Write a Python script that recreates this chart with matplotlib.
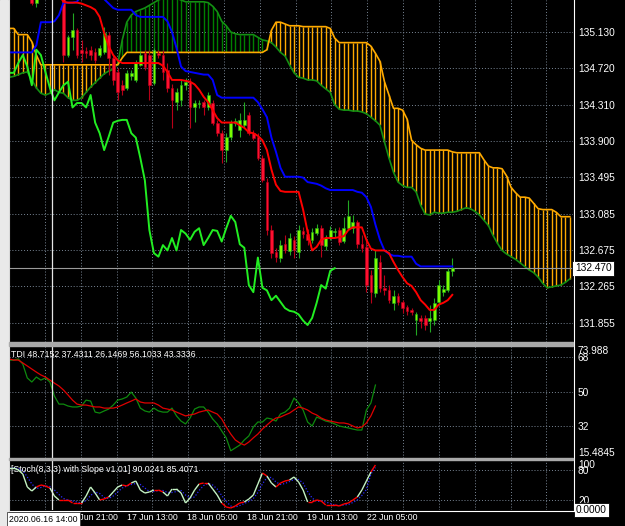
import numpy as np
import matplotlib
matplotlib.use("Agg")
import matplotlib.pyplot as plt
from matplotlib.patches import Rectangle
from matplotlib.lines import Line2D
from matplotlib.collections import LineCollection
from matplotlib.transforms import blended_transform_factory

plt.rcParams['font.family'] = ['Liberation Sans', 'DejaVu Sans']

W, H = 625.0, 526.0

# H1 candles, first one is bar 5 (bars 0..4 are above the visible range)
first_bar = 5
opens = [135.58, 135.46, 135.55, 135.64, 135.75, 135.70, 135.63, 135.58, 134.87, 135.07,
         135.15, 134.93, 134.92, 134.93, 134.90, 134.87, 134.90, 135.10, 134.84, 134.68,
         134.53, 134.50, 134.63, 134.59, 134.76, 134.89, 134.87, 134.56, 134.89, 134.87,
         134.70, 134.50, 134.34, 134.36, 134.53, 134.57, 134.28, 134.32, 134.34, 134.28,
         134.33, 134.11, 133.99, 133.80, 133.95, 134.11, 134.03, 134.08, 134.20, 133.99,
         133.95, 133.71, 133.44, 132.90, 132.65, 132.59, 132.74, 132.66, 132.79, 132.65,
         132.89, 132.86, 132.79, 132.87, 132.92, 132.72, 132.81, 132.88, 132.90, 132.78,
         132.92, 132.92, 132.99, 132.74, 132.71, 132.39, 132.19, 132.54, 132.25, 132.22,
         132.08, 132.16, 132.09, 132.03, 132.00, 131.89, 131.91, 131.91, 131.87, 131.89,
         132.09, 132.20, 132.22, 132.44]
highs = [135.66, 135.60, 135.70, 135.80, 135.84, 135.76, 135.68, 135.62, 135.10, 135.34,
         135.17, 135.04, 134.96, 134.97, 134.95, 134.98, 135.19, 135.13, 134.87, 134.72,
         134.59, 134.70, 134.70, 134.81, 134.90, 134.93, 134.93, 134.95, 134.93, 134.93,
         134.78, 134.54, 134.50, 134.59, 134.61, 134.61, 134.36, 134.36, 134.36, 134.45,
         134.36, 134.14, 134.03, 133.99, 134.14, 134.16, 134.22, 134.34, 134.23, 134.03,
         133.99, 133.74, 133.49, 132.96, 132.70, 132.79, 132.84, 132.87, 132.83, 132.96,
         132.93, 132.91, 132.92, 132.97, 132.96, 132.84, 132.95, 132.92, 132.93, 133.05,
         133.24, 133.07, 133.01, 132.84, 132.79, 132.45, 132.67, 132.62, 132.39, 132.28,
         132.22, 132.19, 132.11, 132.06, 132.02, 131.98, 131.94, 131.94, 132.06, 132.14,
         132.34, 132.28, 132.47, 132.59]
lows = [135.43, 135.41, 135.52, 135.60, 135.66, 135.60, 135.55, 134.79, 134.85, 134.93,
        134.84, 134.79, 134.84, 134.81, 134.78, 134.85, 134.88, 134.65, 134.53, 134.36,
        134.42, 134.48, 134.59, 134.57, 134.75, 134.70, 134.36, 134.53, 134.84, 134.59,
        134.45, 134.05, 134.25, 134.30, 134.48, 134.05, 134.12, 134.27, 134.20, 134.25,
        134.08, 133.96, 133.65, 133.67, 133.91, 134.07, 133.95, 134.05, 133.97, 133.91,
        133.69, 133.44, 132.84, 132.59, 132.54, 132.54, 132.64, 132.62, 132.59, 132.59,
        132.81, 132.73, 132.75, 132.84, 132.60, 132.67, 132.79, 132.82, 132.73, 132.75,
        132.90, 132.87, 132.70, 132.65, 132.20, 132.08, 132.15, 132.20, 132.17, 132.08,
        132.00, 132.06, 131.97, 131.94, 131.94, 131.72, 131.80, 131.77, 131.75, 131.83,
        132.06, 132.16, 132.20, 132.38]
closes = [135.46, 135.55, 135.64, 135.75, 135.70, 135.63, 135.58, 134.87, 135.07, 135.15,
          134.87, 134.89, 134.89, 134.87, 134.81, 134.95, 135.12, 134.84, 134.59, 134.45,
          134.48, 134.67, 134.67, 134.78, 134.87, 134.74, 134.53, 134.93, 134.87, 134.68,
          134.50, 134.36, 134.45, 134.53, 134.57, 134.28, 134.33, 134.33, 134.28, 134.42,
          134.11, 133.99, 133.80, 133.95, 134.11, 134.13, 134.14, 134.14, 133.99, 133.94,
          133.71, 133.46, 132.90, 132.64, 132.60, 132.73, 132.67, 132.81, 132.67, 132.90,
          132.86, 132.79, 132.88, 132.92, 132.73, 132.81, 132.90, 132.89, 132.77, 132.92,
          133.06, 132.99, 132.74, 132.70, 132.28, 132.20, 132.59, 132.25, 132.22, 132.11,
          132.16, 132.09, 132.02, 131.99, 131.98, 131.95, 131.88, 131.83, 131.91, 132.08,
          132.28, 132.24, 132.44, 132.47]

# Ichimoku (9,26,52), bar 0 .. 98 / 124
tenkan = ([135.62] * 11 + [135.55, 135.47, 135.46, 135.46, 135.46, 135.45, 135.43, 135.41,
          135.38, 135.30, 135.12, 134.97, 134.87, 134.81] + [134.78] * 9 +
          [134.75, 134.68, 134.59, 134.59, 134.59, 134.58, 134.57, 134.54, 134.48, 134.40,
           134.34, 134.25, 134.16, 134.11, 134.11, 134.11, 134.11, 134.08, 134.05, 134.00,
           133.99, 133.96, 133.91, 133.80, 133.58, 133.41, 133.34, 133.33, 133.33, 133.33,
           133.33, 133.13, 132.88, 132.67, 132.71, 132.79, 132.81, 132.81, 132.81, 132.82,
           132.83, 132.90, 132.93, 132.93, 132.93, 132.79, 132.69, 132.67, 132.67, 132.67,
           132.64, 132.54, 132.45, 132.37, 132.30, 132.27, 132.20, 132.11, 132.06, 132.00,
           132.00, 132.06, 132.08, 132.11, 132.17])
kijun = ([134.90] * 6 + [134.98, 135.24, 135.24, 135.24, 135.25, 135.32, 135.46, 135.46, 135.46,
         135.47] + [135.56] * 5 + [135.50, 135.45, 135.40, 135.38, 135.38, 135.38, 135.38, 135.32] +
         [135.30] * 6 + [135.25, 135.13, 134.95, 134.74, 134.69, 134.68, 134.67, 134.66, 134.65,
         134.65, 134.59, 134.42] + [134.39] * 8 +
         [134.34, 134.26, 134.17, 133.94, 133.78, 133.60, 133.50, 133.50, 133.50, 133.50,
          133.49, 133.44, 133.43, 133.42, 133.40, 133.37] + [133.35] * 6 +
         [133.33, 133.32, 133.27, 133.16, 132.96, 132.79, 132.67, 132.63, 132.61, 132.61,
          132.60, 132.60, 132.60, 132.52] + [132.49] * 8)
senkou_a = [134.62, 134.63, 134.65, 134.67, 134.68, 134.59, 134.50, 134.44, 134.42, 134.44,
            134.48, 134.45, 134.44, 134.39, 134.36, 134.36, 134.39, 134.45, 134.51, 134.56,
            134.61, 134.66, 134.69, 134.71, 134.77, 135.04, 135.24, 135.32, 135.36, 135.38,
            135.40, 135.43, 135.46, 135.49, 135.51, 135.52, 135.52, 135.51, 135.49, 135.47,
            135.47, 135.47, 135.47, 135.47, 135.46, 135.42, 135.36, 135.25, 135.20, 135.13,
            135.11, 135.10, 135.10, 135.10, 135.10, 135.07, 135.04, 135.03, 135.01, 134.96,
            134.90, 134.86, 134.76, 134.67, 134.62, 134.61, 134.59, 134.59, 134.58, 134.53,
            134.49, 134.45, 134.31, 134.26, 134.25, 134.25, 134.24, 134.24, 134.23, 134.21,
            134.17, 134.13, 134.08, 133.89, 133.71, 133.55, 133.44, 133.40, 133.38, 133.38,
            133.33, 133.18, 133.08, 133.07, 133.10, 133.09, 133.09, 133.10, 133.10, 133.11,
            133.13, 133.15, 133.14, 133.11, 133.07, 133.01, 132.95, 132.84, 132.75, 132.67,
            132.63, 132.60, 132.57, 132.53, 132.49, 132.45, 132.42, 132.37, 132.30, 132.25,
            132.26, 132.27, 132.28, 132.31, 132.35]
senkou_b = ([135.17] * 2 + [135.10] * 3 + [135.02, 134.87] + [134.76] * 18 + [134.84] +
            [134.90] * 31 + [134.93, 135.15, 135.24, 135.24, 135.22, 135.20, 135.20, 135.20] +
            [135.19] * 6 + [135.17, 135.06] + [135.01] * 7 +
            [134.97, 134.89, 134.80, 134.57, 134.42, 134.27, 134.27, 134.25, 134.15, 133.91,
             133.86, 133.82] + [133.80] * 6 + [133.78] + [133.77] * 6 +
            [133.69, 133.62, 133.60, 133.60, 133.59, 133.51, 133.38, 133.32, 133.27, 133.27,
             133.26, 133.20, 133.14, 133.13, 133.13, 133.13, 133.10, 133.05, 133.05, 133.05])
chikou_shift = 26
bid = 132.47
price_levels = [135.130, 134.720, 134.310, 133.900, 133.495, 133.085, 132.675, 132.265, 131.855]

# TDI, bar 0 .. 81
tdi_green = [66.6, 66.6, 67.2, 64.5, 57.2, 55.1, 57.7, 56.1, 57.2, 55.1,
             47.7, 43.5, 43.5, 42.5, 42.0, 42.0, 42.5, 45.6, 45.1, 39.3,
             38.8, 39.9, 40.9, 43.0, 45.6, 46.2, 47.2, 49.8, 46.7, 41.4,
             39.9, 39.3, 41.4, 39.9, 39.3, 39.3, 41.4, 37.3, 34.6, 33.1,
             36.2, 40.9, 42.0, 42.0, 39.3, 35.7, 33.1, 29.4, 25.8, 19.0,
             20.5, 22.0, 24.7, 26.8, 31.5, 34.1, 34.1, 36.2, 35.7, 34.6,
             38.3, 39.3, 41.4, 46.7, 44.1, 40.4, 34.1, 32.0, 36.7, 35.7,
             34.6, 34.1, 33.1, 32.0, 31.5, 31.0, 30.4, 29.9, 29.9, 40.4,
             44.1, 53.5]
tdi_red = [67.2, 66.6, 66.6, 65.1, 63.5, 61.9, 60.3, 58.8, 57.7, 56.1,
           54.5, 53.0, 50.9, 48.3, 45.6, 43.5, 43.0, 43.0, 42.5, 42.0,
           42.0, 41.4, 41.4, 41.4, 42.0, 43.0, 44.1, 45.1, 46.2, 44.6,
           44.1, 44.1, 44.1, 43.0, 41.4, 40.9, 40.4, 39.3, 38.3, 37.3,
           37.8, 38.3, 39.3, 39.9, 40.4, 39.3, 38.3, 35.7, 31.5, 27.8,
           24.7, 23.1, 22.0, 23.6, 25.8, 27.8, 30.4, 32.5, 34.6, 36.2,
           36.7, 37.8, 38.8, 40.4, 42.0, 41.4, 40.4, 38.8, 37.8, 36.2,
           35.2, 34.6, 34.1, 33.6, 33.6, 33.1, 32.0, 31.0, 31.5, 33.6,
           37.3, 42.5]
tdi_levels = [68, 50, 32]
tdi_range = (15.4845, 73.988)

# Stochastic (8,3,3), bar 0 .. 81
stoch_main = [84, 84, 80, 72, 46, 38, 46, 50, 48, 44, 28, 20, 20, 20, 14, 14, 14, 28, 46, 34,
              20, 22, 26, 36, 46, 50, 48, 54, 58, 40, 34, 36, 40, 40, 36, 28, 42, 42, 34, 14,
              24, 40, 52, 54, 54, 42, 30, 14, 6, 4, 8, 14, 16, 22, 30, 52, 74, 68, 54, 46,
              54, 58, 60, 66, 56, 40, 16, 16, 20, 18, 10, 10, 10, 8, 12, 14, 20, 26, 40, 58,
              76, 90]
stoch_signal = [84, 84, 83, 79, 66, 52, 43, 45, 48, 47, 40, 31, 23, 20, 18, 16, 14, 19, 29, 36,
                33, 25, 23, 28, 36, 44, 48, 51, 53, 51, 44, 37, 37, 39, 39, 35, 35, 37, 39, 30,
                24, 26, 39, 49, 53, 50, 42, 29, 17, 8, 6, 9, 13, 17, 23, 35, 52, 65, 65, 56,
                51, 53, 57, 61, 61, 54, 37, 24, 17, 18, 16, 13, 10, 9, 10, 11, 15, 20, 29, 41,
                72, 85]
slope_red = [6, 7, 8, 9, 11, 12, 13, 14, 15, 16, 20, 21, 22, 25, 26, 27, 32, 33, 34,
             42, 43, 44, 47, 48, 49, 50, 51, 52, 56, 57, 59, 60, 61, 62,
             66, 67, 68, 69, 70, 71, 72, 73, 74, 75, 76, 77, 80, 81]

date_labels = ["16 Jun 21:00", "17 Jun 13:00", "18 Jun 05:00", "18 Jun 21:00",
               "19 Jun 13:00", "22 Jun 05:00"]
cross_label = "2020.06.16 14:00"
cross_bar = 9.47


def box(x0, y0, x1, y1):
    return [x0 / W, 1 - y1 / H, (x1 - x0) / W, (y1 - y0) / H]


fig = plt.figure(figsize=(6.25, 5.26), dpi=100, facecolor='black')
ax = fig.add_axes(box(9, 0, 573, 342))
ax2 = fig.add_axes(box(9, 346, 573, 457.5))
ax3 = fig.add_axes(box(9, 460, 573, 510))

grid_col = '#7A8796'
for a in (ax, ax2, ax3):
    a.set_facecolor('black')
    for s in a.spines.values():
        s.set_visible(False)
    a.set_xlim(-0.05, 124.7)
    a.set_xticks(np.arange(7.92, 124.5, 7.92))
    a.tick_params(axis='x', length=0, labelbottom=False)
    a.yaxis.tick_right()
    a.tick_params(axis='y', length=0, pad=3.6, colors='white', labelsize=7.3)
    a.grid(True, color=grid_col, linestyle=(0, (1, 2)), linewidth=0.7)
    a.set_axisbelow(True)
    a.axvline(cross_bar, color='#E6E6E6', lw=0.9, zorder=6)

# ---------------- main window ----------------
ax.set_ylim(131.639, 135.49)
ax.set_yticks(price_levels)
ax.set_yticklabels(["%.3f" % v for v in price_levels])
ax.text(1.0 + 5 / 564, 135.540, "135.540", transform=ax.get_yaxis_transform(),
        color='white', fontsize=7.3, va='center', clip_on=False)

sa = np.array(senkou_a)
sb = np.array(senkou_b)
kb = np.arange(len(sa))
ax.vlines(kb, sa, sb, colors=np.where(sa >= sb, '#008000', '#FFAA00'), lw=1.0, zorder=1)
ax.plot(kb, sa, color='#139013', lw=1.2, zorder=2)
ax.plot(kb, sb, color='#FFAA00', lw=1.2, zorder=2)

ax.axhline(bid, color='#9A9A9A', lw=0.8, zorder=2)

o = np.array(opens)
h = np.array(highs)
l = np.array(lows)
c = np.array(closes)
x = np.arange(first_bar, first_bar + len(o))
up = c >= o
wick_col = np.where(up, '#22A822', '#B80018')
body_col = np.where(up, '#7CFC00', '#FF1030')
ax.vlines(x, l, h, colors=wick_col, lw=0.8, zorder=3)
ax.bar(x, np.maximum(np.abs(c - o), 0.012), bottom=np.minimum(o, c), width=0.6,
       color=body_col, edgecolor=wick_col, linewidth=0.4, zorder=3)

ax.plot(x - chikou_shift, c, color='#22EE22', lw=1.4, zorder=4)
ax.plot(np.arange(len(kijun)), kijun, color='#0000FF', lw=1.4, zorder=4)
ax.plot(np.arange(len(tenkan)), tenkan, color='#FF0000', lw=1.4, zorder=4)

ax.text(1.0 + 2 / 564, bid, "132.470", transform=ax.get_yaxis_transform(),
        color='black', fontsize=7.3, va='center', ha='left', zorder=8, clip_on=False,
        bbox=dict(boxstyle='square,pad=0.25', fc='white', ec='black', lw=0.6))

# ---------------- TDI ----------------
ax2.set_ylim(*tdi_range)
ax2.set_yticks(tdi_levels)
ax2.set_yticklabels([str(v) for v in tdi_levels])
tb = np.arange(len(tdi_green))
ax2.plot(tb, tdi_green, color='#0E8A0E', lw=0.9, zorder=3)
ax2.plot(tb, tdi_red, color='#E00000', lw=0.9, zorder=3)
ax2.text(1.0 + 5 / 564, tdi_range[1], "73.988", transform=ax2.get_yaxis_transform(),
         color='white', fontsize=7.3, va='top', clip_on=False)
ax2.text(1.0 + 5 / 564, tdi_range[0], "15.4845", transform=ax2.get_yaxis_transform(),
         color='white', fontsize=7.3, va='bottom', clip_on=False)
ax2.text(2 / 564, 0.965, "TDI 48.7152 37.4311 26.1469 56.1033 43.3336", transform=ax2.transAxes,
         color='white', fontsize=6.3, va='top', ha='left')

# ---------------- Stochastic ----------------
ax3.set_ylim(0, 100)
ax3.set_yticks([80, 20])
ax3.set_yticklabels(["80", "20"])
sbars = np.arange(len(stoch_main))
ax3.plot(sbars, stoch_signal, color='#2A2AFF', lw=0.9, linestyle=(0, (1, 1.5)), zorder=3)
segs = [[(i, stoch_main[i]), (i + 1, stoch_main[i + 1])] for i in range(len(stoch_main) - 1)]
red_set = set(slope_red)
seg_cols = ['#FF0000' if (i in red_set and i + 1 in red_set) else '#C4F2C4'
            for i in range(len(stoch_main) - 1)]
ax3.add_collection(LineCollection(segs, colors=seg_cols, linewidths=1.0, zorder=4))
ax3.text(1.0 + 5 / 564, 100, "100", transform=ax3.get_yaxis_transform(),
         color='white', fontsize=7.3, va='top', clip_on=False)
ax3.text(1.0 + 3 / 564, 0, "0.0000", transform=ax3.get_yaxis_transform(),
         color='black', fontsize=7.3, va='center', ha='left', zorder=8, clip_on=False,
         bbox=dict(boxstyle='square,pad=0.2', fc='white', ec='black', lw=0.6))
ax3.text(2 / 564, 0.9, "[Stoch(8,3,3) with Slope v1.01] 90.0241 85.4071", transform=ax3.transAxes,
         color='white', fontsize=6.3, va='top', ha='left')

# ---------------- frame pieces ----------------
fig.add_artist(Rectangle((0, 0), 8 / W, 1, transform=fig.transFigure, color='#E9E9E9', zorder=0))
for y0, y1 in ((342, 345.5), (457.5, 460)):
    fig.add_artist(Rectangle((9 / W, 1 - y1 / H), 564 / W, (y1 - y0) / H,
                             transform=fig.transFigure, color='#A9A9A9', zorder=5))
fig.add_artist(Line2D([573.5 / W, 573.5 / W], [1, 1 - 510.5 / H], color='white', lw=0.8))
fig.add_artist(Line2D([8.5 / W, 573.5 / W], [1 - 510.5 / H, 1 - 510.5 / H], color='white', lw=0.8))
fig.add_artist(Line2D([8.5 / W, 8.5 / W], [1, 1 - 510.5 / H], color='#D8D8D8', lw=0.8))

# time axis
date_pos = 12.8 + 13.27 * np.arange(len(date_labels))
trans = blended_transform_factory(ax3.transData, fig.transFigure)
for p, s in zip(date_pos, date_labels):
    ax3.text(p, 1 - 518 / H, s, transform=trans, color='white', fontsize=6.3,
             va='center', ha='left', clip_on=False)
fig.text(9 / W, 1 - 519 / H, cross_label, color='black', fontsize=6.3, va='center', ha='left',
         zorder=10, bbox=dict(boxstyle='square,pad=0.25', fc='white', ec='#404040', lw=0.6))

fig.savefig("out.png", dpi=100, facecolor='black')
